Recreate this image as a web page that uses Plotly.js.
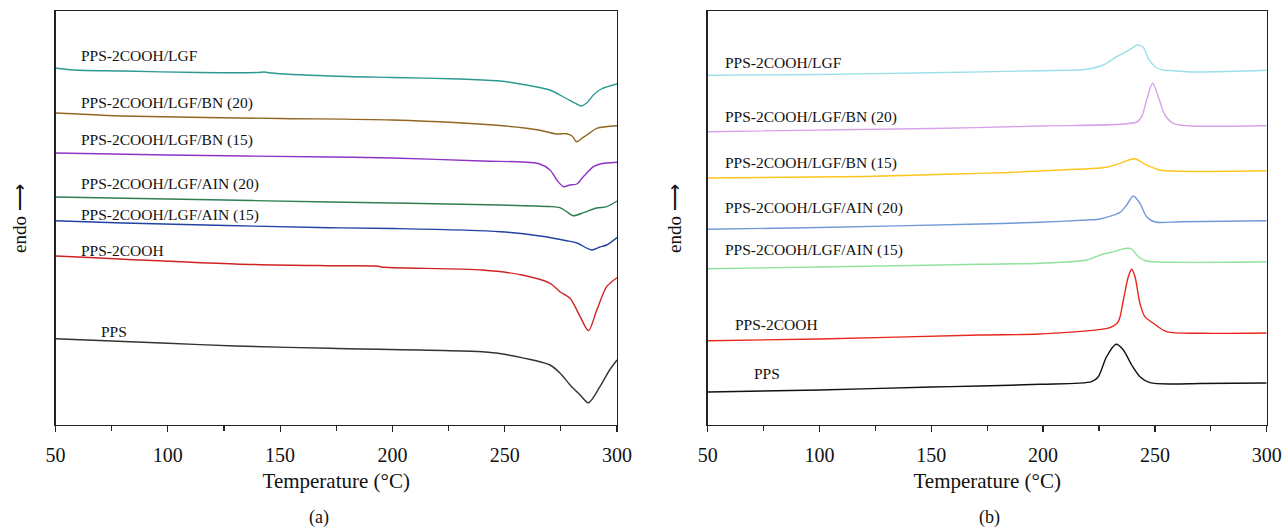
<!DOCTYPE html>
<html>
<head>
<meta charset="utf-8">
<script src="https://cdn.plot.ly/plotly-3.0.1.min.js"></script>
<style>html,body{margin:0;padding:0;background:#fff;}#chart{width:1282px;height:528px;}</style>
</head>
<body>
<div id="chart"></div>
<script>
// ---------- Panel (a): melting curves (arbitrary heat-flow units) ----------
const a_LGF_T = [50, 58, 80, 114, 140, 143, 146, 172, 200, 230, 248, 262, 270, 277, 282, 284, 286.5, 289.5, 293, 300];
const a_LGF_y = [357, 355, 354, 352.5, 352.5, 353, 352, 349, 347.5, 346, 344, 339, 335, 327, 321, 319, 322, 330, 336, 341];

const a_BN20_T = [50, 60, 79, 150, 200, 248, 265, 273, 277.5, 280, 282, 284, 286.6, 291, 300];
const a_BN20_y = [312, 311, 309, 306.5, 305, 299.5, 295, 291, 291.3, 289, 283.3, 286, 290, 296.7, 299.3];

const a_BN15_T = [50, 100, 172, 200, 240, 258, 265, 270.2, 273.2, 276.2, 279, 282.1, 285, 289.5, 292.5, 300];
const a_BN15_y = [272, 270, 268, 267, 264, 263, 261.5, 255, 245, 238.3, 240, 241, 248.3, 258.3, 261, 262.7];

const a_AIN20_T = [50, 100, 172, 248, 270, 274.6, 277.6, 280.5, 285, 291, 295.4, 300];
const a_AIN20_y = [228, 226, 223, 220, 218.5, 217.3, 213.3, 209.3, 212.3, 217, 218.3, 224];

const a_AIN15_T = [50, 80, 172, 200, 248, 265.7, 277.6, 282.2, 288.7, 292.4, 295.4, 300];
const a_AIN15_y = [204.3, 202, 197.3, 196.5, 193.3, 189, 184.3, 182, 175, 178, 180, 187.5];

const a_COOH_T = [50, 130, 172, 194, 195, 240, 257.7, 270.2, 274.6, 279.1, 283.6, 287.3, 291, 295.4, 300];
const a_COOH_y = [169, 161, 159.3, 158.8, 158, 155, 150, 141.7, 133.3, 126.7, 108.3, 94.3, 115, 138.3, 147.3];

const a_PPS_T = [50, 100, 130, 172, 240, 246, 250, 270.2, 275, 279.1, 283.6, 287.3, 292.4, 296.7, 300];
const a_PPS_y = [86.3, 81.7, 79, 76.7, 73.3, 72, 70.7, 60, 51, 40, 30, 22.3, 38.3, 55, 65];

// ---------- Panel (b): crystallisation curves ----------
const b_LGF_T = [50, 100, 150, 198.6, 219.5, 226.9, 232.9, 238.1, 242.3, 244.8, 247, 250.1, 252.3, 258.2, 268.7, 300];
const b_LGF_y = [349.7, 350.5, 352.3, 354.3, 355.7, 360, 368.3, 374.3, 380, 377.7, 366.7, 358.3, 355.7, 354.3, 353, 354.7];

const b_BN20_T = [50, 150, 198.6, 241.9, 244.1, 246.3, 249, 251.5, 254.5, 258.2, 264.2, 300];
const b_BN20_y = [293.3, 296.5, 299, 303, 308.3, 325, 341.7, 328.3, 310, 301.7, 299.3, 299.3];

const b_BN15_T = [50, 120, 160, 185, 200, 228.4, 234.4, 240.8, 246.3, 252.3, 261.2, 300];
const b_BN15_y = [247, 248.5, 251, 252.5, 254.3, 257.7, 261.7, 266.3, 260, 255, 253.7, 254.3];

const b_AIN20_T = [50, 100, 171.8, 198.6, 219.5, 225.4, 234.4, 237.4, 240.3, 243.3, 246.3, 250, 261.5, 300];
const b_AIN20_y = [195.7, 197.5, 201, 202.7, 205, 206, 212.7, 220, 229, 221.7, 208.3, 203, 203.3, 204.3];

const b_AIN15_T = [50, 100, 171.8, 198.6, 219.5, 226.9, 230.7, 234, 237.4, 239.6, 242.6, 246.3, 258.2, 300];
const b_AIN15_y = [156.3, 158, 160.7, 161.7, 165, 171, 172.7, 175, 176.7, 176, 168.3, 164, 162.7, 163.3];

const b_COOH_T = [50, 100, 171.8, 198.6, 229.9, 233.6, 235.9, 238.1, 239.6, 241.1, 243.3, 245.5, 249.3, 255.3, 270.2, 300];
const b_COOH_y = [84.3, 86, 90, 91, 97.3, 103.3, 125, 148.3, 155.7, 148.3, 121.7, 108.3, 101.7, 93.3, 91.7, 92];

const b_PPS_T = [50, 100, 150, 171.8, 198.6, 221.7, 224.7, 228.4, 232.6, 235.9, 239.6, 243.3, 247.8, 258.2, 270, 300];
const b_PPS_y = [33, 35, 38, 39, 40.7, 43.3, 48.3, 68.3, 80.7, 75, 60, 48.3, 42.3, 41, 41.5, 42];

// ---------- labels ----------
const seriesNames = ["PPS-2COOH/LGF", "PPS-2COOH/LGF/BN (20)", "PPS-2COOH/LGF/BN (15)",
  "PPS-2COOH/LGF/AIN (20)", "PPS-2COOH/LGF/AIN (15)", "PPS-2COOH", "PPS"];
const xTitle = "Temperature (°C)";
const yTitle = "endo ⟶";
const panelTags = ["(a)", "(b)"];

const colorsA = ["#2b9892", "#906622", "#8e33c6", "#2f7e52", "#2142a3", "#cf2222", "#333333"];
const colorsB = ["#9bdfe9", "#d8a2ea", "#fdc51c", "#7099d8", "#90e29c", "#e8261c", "#111111"];

const seriesA = [[a_LGF_T, a_LGF_y], [a_BN20_T, a_BN20_y], [a_BN15_T, a_BN15_y], [a_AIN20_T, a_AIN20_y],
  [a_AIN15_T, a_AIN15_y], [a_COOH_T, a_COOH_y], [a_PPS_T, a_PPS_y]];
const seriesB = [[b_LGF_T, b_LGF_y], [b_BN20_T, b_BN20_y], [b_BN15_T, b_BN15_y], [b_AIN20_T, b_AIN20_y],
  [b_AIN15_T, b_AIN15_y], [b_COOH_T, b_COOH_y], [b_PPS_T, b_PPS_y]];

// label anchor positions (in axis units)
const labelYA = [369.5, 322, 285, 241, 210, 175, 93.3];
const labelXA = [60.6, 60.6, 60.6, 60.6, 60.6, 60.6, 69.4];
const labelYB = [362.3, 308.3, 262.3, 216.7, 175, 101, 51.7];
const labelXB = [56.9, 56.9, 56.9, 56.9, 56.9, 61.1, 69.6];

const traces = [];
seriesA.forEach((s, i) => traces.push({
  x: s[0], y: s[1], xaxis: 'x', yaxis: 'y', type: 'scatter', mode: 'lines', name: seriesNames[i],
  line: {color: colorsA[i], width: 1.4, shape: 'spline', smoothing: 0.8}, showlegend: false
}));
seriesB.forEach((s, i) => traces.push({
  x: s[0], y: s[1], xaxis: 'x2', yaxis: 'y2', type: 'scatter', mode: 'lines', name: seriesNames[i],
  line: {color: colorsB[i], width: 1.4, shape: 'spline', smoothing: 0.8}, showlegend: false
}));

const FONT = "Liberation Serif, Times New Roman, serif";
const W = 1282, H = 528;
const yDom = [1 - 425 / H, 1 - 11 / H];

function xAxis(domain, anchor) {
  return {
    domain: domain, anchor: anchor, range: [50, 300], tickvals: [50, 100, 150, 200, 250, 300],
    ticks: 'outside', ticklen: 6, tickwidth: 1.2, tickcolor: '#222',
    minor: {tickvals: [75, 125, 175, 225, 275], ticks: 'outside', ticklen: 5, tickwidth: 1.2, tickcolor: '#222'},
    showline: true, mirror: true, linecolor: '#222', linewidth: 1.4,
    showgrid: false, zeroline: false, ticklabelstandoff: 6,
    tickfont: {family: FONT, size: 20, color: '#111'},
    title: {text: xTitle, font: {family: FONT, size: 21, color: '#111'}, standoff: 8}
  };
}
function yAxis(anchor) {
  return {
    domain: yDom, anchor: anchor, range: [0, 414], showticklabels: false, ticks: '',
    showline: true, mirror: true, linecolor: '#222', linewidth: 1.4, showgrid: false, zeroline: false
  };
}

const annotations = [];
seriesNames.forEach((n, i) => {
  annotations.push({x: labelXA[i], y: labelYA[i], xref: 'x', yref: 'y', text: n, showarrow: false,
    xanchor: 'left', yanchor: 'middle', font: {family: FONT, size: 15.5, color: '#111'}});
  annotations.push({x: labelXB[i], y: labelYB[i], xref: 'x2', yref: 'y2', text: n, showarrow: false,
    xanchor: 'left', yanchor: 'middle', font: {family: FONT, size: 15.5, color: '#111'}});
});
[[19 / W, panelTags[0], 319 / W], [674 / W, panelTags[1], 989 / W]].forEach(([yx, tag, tx]) => {
  annotations.push({x: yx, y: 1 - 219 / H, xref: 'paper', yref: 'paper', text: yTitle, textangle: -90,
    showarrow: false, xanchor: 'center', yanchor: 'middle', font: {family: FONT, size: 19, color: '#111'}});
  annotations.push({x: tx, y: 1 - 517 / H, xref: 'paper', yref: 'paper', text: tag, showarrow: false,
    xanchor: 'center', yanchor: 'middle', font: {family: FONT, size: 18, color: '#111'}});
});

const layout = {
  width: W, height: H, margin: {l: 0, r: 0, t: 0, b: 0},
  paper_bgcolor: '#fff', plot_bgcolor: '#fff', showlegend: false,
  xaxis: xAxis([55.5 / W, 617 / W], 'y'),
  yaxis: yAxis('x'),
  xaxis2: xAxis([707.7 / W, 1266.7 / W], 'y2'),
  yaxis2: yAxis('x2'),
  annotations: annotations
};

Plotly.newPlot('chart', traces, layout, {displayModeBar: false, staticPlot: true});
</script>
</body>
</html>
